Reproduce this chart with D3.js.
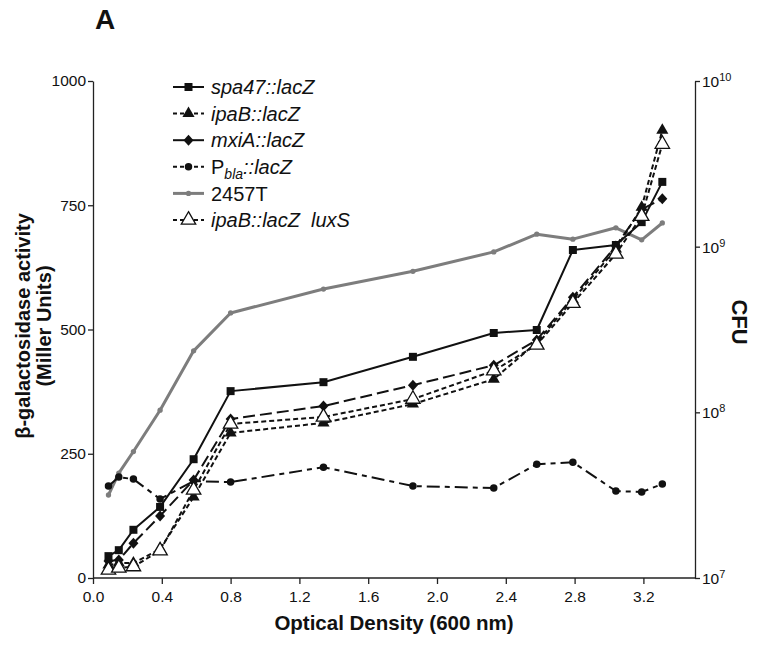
<!DOCTYPE html>
<html>
<head>
<meta charset="utf-8">
<script src="https://cdn.jsdelivr.net/npm/d3@7"></script>
<style>
  html, body { margin: 0; padding: 0; background: #fff; }
  svg { display: block; font-family: "Liberation Sans", Arial, sans-serif; }
</style>
</head>
<body>
<svg id="chart" width="757" height="650"></svg>
<script>
// ---- data ----
const odValues = [0.09, 0.15, 0.235, 0.39, 0.585, 0.80, 1.34, 1.86, 2.33, 2.58, 2.79, 3.04, 3.19, 3.31];
const spa47 = [44, 56, 97, 143, 239, 376, 394, 445, 493, 499, 660, 670, 716, 797];
const ipaB = [26, 30, 30, 58, 163, 292, 312, 350, 400, 474, 560, 662, 746, 901];
const mxiA = [34, 36, 70, 125, 197, 320, 346, 388, 428, 479, 565, 668, 742, 763];
const pBla = [185, 203, 199, 159, 195, 193, 223, 185, 181, 229, 233, 175, 173, 189];
const ipaBluxS = [16, 20, 23, 55, 177, 310, 324, 360, 417, 469, 553, 652, 728, 873];
const cfu2457T = [3.17e7, 4.3e7, 5.8e7, 1.03e8, 2.35e8, 3.98e8, 5.55e8, 7.1e8, 9.3e8, 1.19e9, 1.11e9, 1.30e9, 1.10e9, 1.39e9];

const xTicks = [0.0, 0.4, 0.8, 1.2, 1.6, 2.0, 2.4, 2.8, 3.2];
const yTicks = [0, 250, 500, 750, 1000];
const cfuTicks = [1e7, 1e8, 1e9, 1e10];

const seriesNames = ["spa47::lacZ", "ipaB::lacZ", "mxiA::lacZ", "Pbla::lacZ", "2457T", "ipaB::lacZ\u00a0\u00a0luxS"];

// ---- layout ----
const svg = d3.select("#chart");
const X0 = 93, X1 = 695, Y0 = 578, Y1 = 81;
const x = d3.scaleLinear().domain([0, 3.5]).range([X0, X1]);
const y = d3.scaleLinear().domain([0, 1000]).range([Y0, Y1]);
const yR = d3.scaleLog().domain([1e7, 1e10]).range([Y0, Y1]);

const font = '"Liberation Sans", Arial, sans-serif';

// axes
const xAxis = svg.append("g").attr("transform", `translate(0,${Y0})`)
  .call(d3.axisBottom(x).tickValues(xTicks).tickFormat(d3.format(".1f")).tickSize(6).tickSizeOuter(0));
const yAxis = svg.append("g").attr("transform", `translate(${X0},0)`)
  .call(d3.axisLeft(y).tickValues(yTicks).tickFormat(d3.format("d")).tickSize(5).tickSizeOuter(0));
const rAxis = svg.append("g").attr("transform", `translate(${X1},0)`)
  .call(d3.axisRight(yR).tickValues(cfuTicks).tickSize(5).tickSizeOuter(0).tickFormat(() => ""));

[xAxis, yAxis, rAxis].forEach(g => {
  g.select(".domain").attr("stroke", "#222").attr("stroke-width", 1.3);
  g.selectAll(".tick line").attr("stroke", "#222").attr("stroke-width", 1.3);
  g.selectAll("text").attr("font-family", font).attr("font-size", 15.5).attr("fill", "#111");
});
xAxis.selectAll("text").attr("dy", "0.95em");
yAxis.selectAll("text").attr("x", -7);
xAxis.select(".domain").attr("d", `M${X0},0H${X1}`);

rAxis.selectAll(".tick").each(function(d) {
  const t = d3.select(this).select("text");
  t.attr("x", 7).attr("dy", "0.35em").text("10");
  t.append("tspan").attr("dy", -6).attr("font-size", 11).text(Math.round(Math.log10(d)));
});

// axis titles
svg.append("text").attr("x", (X0 + X1) / 2).attr("y", 630).attr("text-anchor", "middle")
  .attr("font-family", font).attr("font-weight", "bold").attr("font-size", 20.5).attr("fill", "#111")
  .text("Optical Density (600 nm)");

const yl = svg.append("text").attr("transform", "translate(30,326) rotate(-90)")
  .attr("text-anchor", "middle").attr("font-family", font).attr("font-weight", "bold")
  .attr("font-size", 20).attr("fill", "#111");
yl.append("tspan").attr("x", 0).attr("y", 0).text("β-galactosidase activity");
yl.append("tspan").attr("x", 0).attr("y", 21).text("(Miller Units)");

svg.append("text").attr("transform", "translate(732,322) rotate(90)")
  .attr("text-anchor", "middle").attr("font-family", font).attr("font-weight", "bold")
  .attr("font-size", 22).attr("fill", "#111").text("CFU");

svg.append("text").attr("x", 95).attr("y", 29).attr("font-family", font).attr("font-weight", "bold")
  .attr("font-size", 28).attr("fill", "#111").text("A");

// ---- series ----
const series = [
  { name: seriesNames[0], vals: spa47, scale: y, color: "#111", width: 2, dash: null, marker: "square", fill: "#111" },
  { name: seriesNames[1], vals: ipaB, scale: y, color: "#111", width: 2, dash: "5,3", marker: "triangle", fill: "#111" },
  { name: seriesNames[2], vals: mxiA, scale: y, color: "#111", width: 2, dash: "12,5", marker: "diamond", fill: "#111" },
  { name: seriesNames[3], vals: pBla, scale: y, color: "#111", width: 2, dash: "13,5,5,5", marker: "circle", fill: "#111" },
  { name: seriesNames[4], vals: cfu2457T, scale: yR, color: "#7d7d7d", width: 3, dash: null, marker: "smallcircle", fill: "#7d7d7d" },
  { name: seriesNames[5], vals: ipaBluxS, scale: y, color: "#111", width: 2, dash: "5,3", marker: "otriangle", fill: "#fff" }
];

function markerPath(type) {
  switch (type) {
    case "square": return d3.symbol(d3.symbolSquare, 64)();
    case "triangle": return d3.symbol(d3.symbolTriangle, 64)();
    case "otriangle": return d3.symbol(d3.symbolTriangle, 90)();
    case "diamond": return "M0,-5.5L5,0L0,5.5L-5,0Z";
    case "circle": return d3.symbol(d3.symbolCircle, 44)();
    case "smallcircle": return d3.symbol(d3.symbolCircle, 22)();
  }
}

const line = (sc) => d3.line().x((d, i) => x(odValues[i])).y(d => sc(d));

const drawOrder = [4, 3, 0, 2, 1, 5];
drawOrder.forEach(k => {
  const s = series[k];
  svg.append("path").datum(s.vals).attr("d", line(s.scale))
    .attr("fill", "none").attr("stroke", s.color).attr("stroke-width", s.width)
    .attr("stroke-dasharray", s.dash).attr("stroke-linejoin", "round");
});
drawOrder.forEach(k => {
  const s = series[k];
  svg.append("g").selectAll("path").data(s.vals).join("path")
    .attr("transform", (d, i) => `translate(${x(odValues[i])},${s.scale(d)})`)
    .attr("d", markerPath(s.marker))
    .attr("fill", s.fill).attr("stroke", s.marker === "otriangle" ? "#111" : "none")
    .attr("stroke-width", 1.3);
});

// ---- legend ----
const legY0 = 87, legStep = 26.6;
series.forEach((s, i) => {
  const gy = legY0 + i * legStep;
  const g = svg.append("g");
  g.append("line").attr("x1", 173).attr("x2", 204).attr("y1", gy).attr("y2", gy)
    .attr("stroke", s.color).attr("stroke-width", s.width)
    .attr("stroke-dasharray", s.dash ? (s.dash === "12,5" ? null : "4,3") : null);
  g.append("path").attr("transform", `translate(188.5,${gy})`).attr("d", markerPath(s.marker))
    .attr("fill", s.fill).attr("stroke", s.marker === "otriangle" ? "#111" : "none").attr("stroke-width", 1.3);
  const t = g.append("text").attr("x", 211).attr("y", gy).attr("dy", "0.36em")
    .attr("font-family", font).attr("font-size", 20).attr("fill", "#111");
  if (i === 3) {
    t.append("tspan").text("P");
    t.append("tspan").attr("font-style", "italic").attr("font-size", 14).attr("dy", 5).text("bla");
    t.append("tspan").attr("font-style", "italic").attr("dy", -5).text("::lacZ");
  } else if (i === 4) {
    t.text(s.name);
  } else {
    t.attr("font-style", "italic").text(s.name);
  }
});
</script>
</body>
</html>
